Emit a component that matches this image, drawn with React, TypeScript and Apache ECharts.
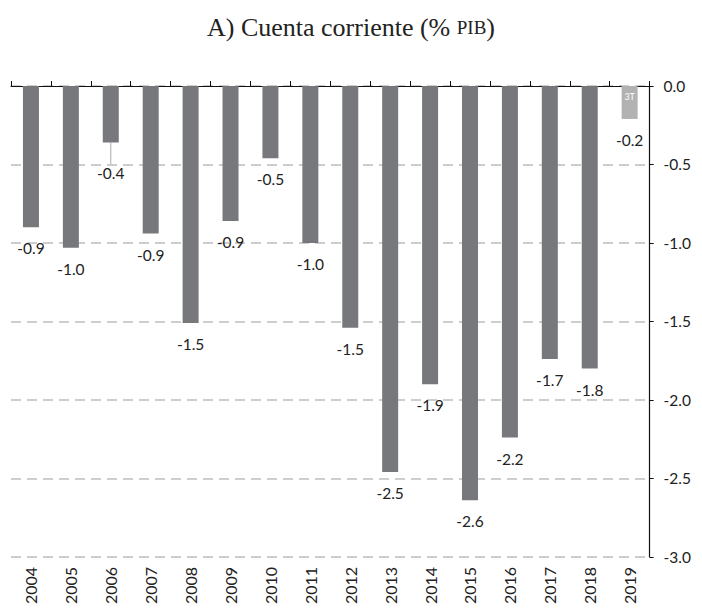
import React, { useEffect, useRef } from "react";
import * as echarts from "echarts";

const years = ["2004", "2005", "2006", "2007", "2008", "2009", "2010", "2011", "2012", "2013", "2014", "2015", "2016", "2017", "2018", "2019"];
const values = [-0.9, -1.03, -0.36, -0.94, -1.51, -0.86, -0.46, -1.0, -1.54, -2.46, -1.9, -2.64, -2.24, -1.74, -1.8, -0.21];
const provisionalYear = "2019";
const provisionalTag = "3T";
const leaderYear = "2006";
const yTicks = [0, -0.5, -1.0, -1.5, -2.0, -2.5, -3.0];

const FONT = "Lato";
const DARK = "#77787c";
const LIGHT = "#b2b2b2";

export default function App() {
  const ref = useRef<HTMLDivElement>(null);
  useEffect(() => {
    if (!ref.current) return;
    const chart = echarts.init(ref.current, null, { renderer: "svg" });
    const mainData = values.map((v, i) => ({
      value: v,
      itemStyle: { color: years[i] === provisionalYear ? LIGHT : DARK },
      labelLine: { show: years[i] === leaderYear },
    }));
    const tagData = values.map((v, i) => (years[i] === provisionalYear ? v : "-"));
    chart.setOption({
      animation: false,
      title: {
        text: "A) Cuenta corriente (% {sc|PIB})",
        left: "center",
        top: 1,
        textStyle: {
          fontFamily: "Liberation Serif",
          fontSize: 26,
          fontWeight: "normal",
          color: "#222",
          rich: {
            sc: { fontFamily: "Liberation Serif", fontSize: 19, color: "#222" },
          },
        },
      },
      grid: { left: 3, right: 43, top: 78, bottom: 44, containLabel: false },
      xAxis: [
        {
          type: "category",
          data: years,
          position: "top",
          boundaryGap: true,
          axisLine: { show: true, lineStyle: { color: "#111", width: 1.2 } },
          axisTick: { show: true, length: 5, lineStyle: { color: "#111" } },
          axisLabel: { show: false },
          splitLine: { show: false },
        },
        {
          type: "category",
          data: years,
          position: "bottom",
          axisLine: { show: false },
          axisTick: { show: false },
          axisLabel: {
            rotate: 90,
            margin: 10,
            fontFamily: FONT,
            fontSize: 16,
            color: "#222",
          },
        },
      ],
      yAxis: {
        type: "value",
        position: "right",
        min: yTicks[yTicks.length - 1],
        max: yTicks[0],
        interval: 0.5,
        axisLine: { show: true, lineStyle: { color: "#111", width: 1.2 } },
        axisTick: { show: true, length: 4, lineStyle: { color: "#111" } },
        axisLabel: {
          margin: 14,
          fontFamily: FONT,
          fontSize: 15.5,
          color: "#222",
          formatter: (v: number) => v.toFixed(1),
        },
        splitLine: {
          show: true,
          lineStyle: { color: "#bdbdbd", type: [10, 6], width: 1.5 },
        },
      },
      series: [
        {
          type: "bar",
          xAxisIndex: 0,
          data: mainData,
          barWidth: 16,
          label: {
            show: true,
            position: "outside",
            distance: 13,
            fontFamily: FONT,
            fontSize: 15.5,
            color: "#222",
            formatter: (p: any) => Number(p.value).toFixed(1),
          },
          labelLayout: (p: any) => (years[p.dataIndex] === leaderYear ? { dy: 9 } : {}),
          labelLine: { show: false, lineStyle: { color: "#aaa", width: 1 } },
        },
        {
          type: "bar",
          xAxisIndex: 0,
          data: tagData,
          barWidth: 16,
          barGap: "-100%",
          itemStyle: { color: "rgba(0,0,0,0)" },
          label: {
            show: true,
            position: "insideTop",
            distance: 6,
            fontFamily: FONT,
            fontSize: 9,
            color: "#ffffff",
            formatter: () => provisionalTag,
          },
        },
      ],
    });
    return () => chart.dispose();
  }, []);
  return <div ref={ref} style={{ width: 686, height: 599 }} />;
}
